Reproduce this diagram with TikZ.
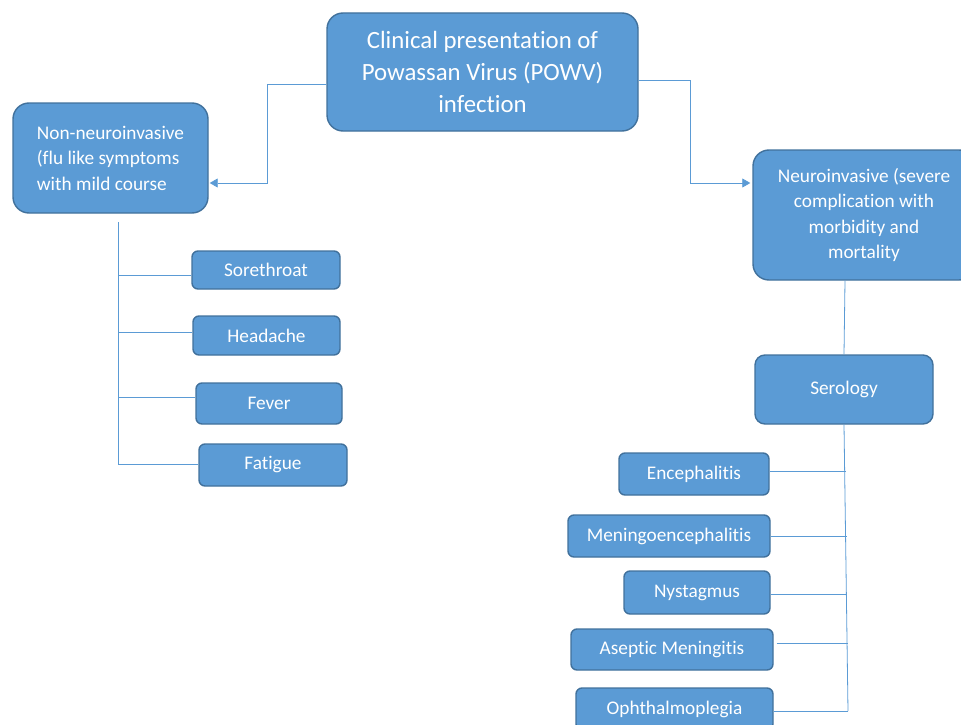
\documentclass[tikz,border=0pt]{standalone}
\usepackage{fontspec}
\setmainfont{Carlito}[Ligatures=NoCommon]
\usetikzlibrary{arrows.meta}
\definecolor{boxfill}{HTML}{5B9BD5}
\definecolor{boxline}{HTML}{41719C}
\definecolor{conncol}{HTML}{5B9BD5}
\begin{document}
\begin{tikzpicture}[x=1pt,y=-1pt,
  bigbox/.style={draw=boxline,fill=boxfill,line width=1.4pt,rounded corners=16pt,text=white,inner sep=0pt,align=center},
  smallbox/.style={draw=boxline,fill=boxfill,line width=1.4pt,rounded corners=6pt,text=white,inner sep=0pt,align=center,font=\fontsize{19.3}{22}\selectfont},
  conn/.style={draw=conncol,line width=0.8pt},
  arr/.style={conn,-{Triangle[length=8pt,width=9pt]}}]
\useasboundingbox (0,0) rectangle (961,725);
\clip (0,0) rectangle (961,725);
% main boxes
\node[bigbox,minimum width=311pt,minimum height=118pt,font=\fontsize{24.8}{32}\selectfont] (top) at (482.5,72) {Clinical presentation of\\Powassan Virus (POWV)\\infection};
\node[bigbox,minimum width=195pt,minimum height=110pt,align=left,font=\fontsize{19.3}{25.5}\selectfont] (nonneuro) at (110.5,158) {Non-neuroinvasive\\(flu like symptoms\\with mild course};
\node[bigbox,minimum width=222pt,minimum height=130pt,font=\fontsize{19.3}{25.5}\selectfont] (neuro) at (864,215) {Neuroinvasive (severe\\complication with\\morbidity and\\mortality};
\node[bigbox,rounded corners=10pt,minimum width=178pt,minimum height=69pt,font=\fontsize{19.3}{22}\selectfont] (sero) at (844,389.5) {Serology};
% left symptoms
\node[smallbox,minimum width=148pt,minimum height=38pt] (sore) at (266,270) {Sorethroat};
\node[smallbox,minimum width=147pt,minimum height=39pt] (head) at (266.5,335.5) {Headache};
\node[smallbox,minimum width=146pt,minimum height=41pt] (fever) at (269,403.5) {Fever};
\node[smallbox,minimum width=148pt,minimum height=42pt] (fat) at (273,465) {Fatigue};
% right symptoms
\node[smallbox,minimum width=150pt,minimum height=42pt] (ence) at (694,474) {Encephalitis};
\node[smallbox,minimum width=202pt,minimum height=42pt] (menin) at (669,536) {Meningoencephalitis};
\node[smallbox,minimum width=146pt,minimum height=43pt] (nyst) at (697,592.5) {Nystagmus};
\node[smallbox,minimum width=202pt,minimum height=41pt] (asep) at (672,649.5) {Aseptic Meningitis};
\node[smallbox,minimum width=197pt,minimum height=42pt] (oph) at (674.5,709) {Ophthalmoplegia};
% connectors from top
\draw[arr] ([yshift=-12pt]top.west) -- (267,84) -- (267,183) -- ([yshift=-25pt,xshift=1pt]nonneuro.east);
\draw[arr] ([yshift=-8pt]top.east) -- (690,80) -- (690,183) -- ([yshift=32pt,xshift=-2pt]neuro.west);
% left tree
\coordinate (ltop) at (118,222);
\coordinate (lbot) at (118,464);
\draw[conn] (ltop) -- (lbot);
\draw[conn] (118,275) -- ([yshift=-5pt]sore.west);
\draw[conn] (118,332) -- ([yshift=3.5pt]head.west);
\draw[conn] (118,397) -- ([yshift=6.5pt]fever.west);
\draw[conn] (lbot) -- ([yshift=1pt]fat.west);
% right tree
\draw[conn] ([xshift=-19pt]neuro.south) -- (sero.north);
\coordinate (rbot) at (848,711);
\draw[conn] (sero.south) -- (rbot);
\draw[conn] ([yshift=3pt]ence.east) -- (845.5,471);
\draw[conn] (menin.east) -- (846.5,536);
\draw[conn] ([yshift=-1.5pt]nyst.east) -- (847,594);
\draw[conn] ([xshift=3pt,yshift=6.5pt]asep.east) -- (847.5,643);
\draw[conn] ([yshift=-2pt]oph.east) -- (rbot);
\end{tikzpicture}
\end{document}
